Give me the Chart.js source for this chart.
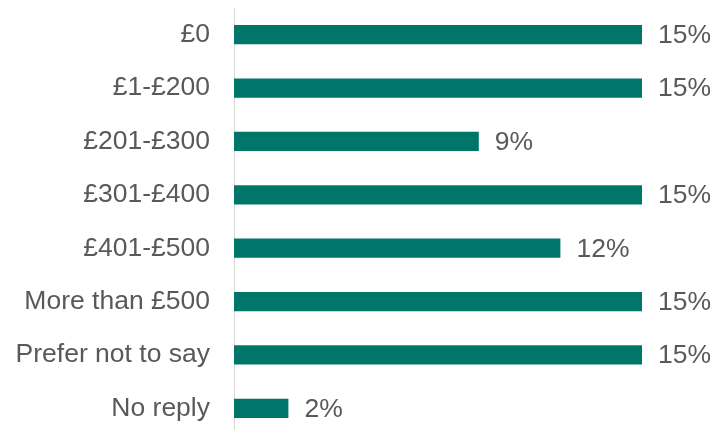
<!DOCTYPE html>
<html>
<head>
<meta charset="utf-8">
<script src="https://cdn.jsdelivr.net/npm/chart.js@4"></script>
<style>
  html, body { margin: 0; padding: 0; background: #fff; overflow: hidden; }
  #wrap { width: 713px; height: 435px; }
</style>
</head>
<body>
<div id="wrap"><canvas id="myChart"></canvas></div>
<script>
var categories = ['£0', '£1-£200', '£201-£300', '£301-£400', '£401-£500', 'More than £500', 'Prefer not to say', 'No reply'];
var shares = [15, 15, 9, 15, 12, 15, 15, 2];
var valueLabels = ['15%', '15%', '9%', '15%', '12%', '15%', '15%', '2%'];

var barColour = '#00766A';
var textColour = '#595959';
var fontFamily = '"Liberation Sans", Arial, sans-serif';

// writes the percentage just past the end of each bar
var valueLabelPlugin = {
    id: 'valueLabels',
    afterDatasetsDraw: function (chart) {
        var ctx = chart.ctx;
        var meta = chart.getDatasetMeta(0);
        ctx.save();
        ctx.font = '26.5px ' + fontFamily;
        ctx.fillStyle = textColour;
        ctx.textAlign = 'left';
        ctx.textBaseline = 'middle';
        meta.data.forEach(function (bar, i) {
            ctx.fillText(valueLabels[i], bar.x + 16, bar.y + 1);
        });
        ctx.restore();
    }
};

var ctx = document.getElementById('myChart').getContext('2d');
var myChart = new Chart(ctx, {
    type: 'bar',
    data: {
        labels: categories,
        datasets: [{
            data: shares,
            backgroundColor: barColour,
            borderWidth: 0,
            barPercentage: 0.36,
            categoryPercentage: 1
        }]
    },
    options: {
        indexAxis: 'y',
        responsive: true,
        maintainAspectRatio: false,
        animation: false,
        layout: {
            padding: { top: 8, right: 71, bottom: 0, left: 0 }
        },
        scales: {
            x: {
                display: false,
                min: 0,
                max: 15
            },
            y: {
                afterFit: function (scale) {
                    scale.width = 234;
                    // no extra room above/below for the first and last labels
                    scale.paddingTop = 0;
                    scale.paddingBottom = 0;
                },
                grid: { display: false, drawTicks: false },
                border: { display: true, color: '#D9D9D9', width: 1 },
                ticks: {
                    padding: 24,
                    color: textColour,
                    font: { family: fontFamily, size: 26.5 }
                }
            }
        },
        plugins: {
            legend: { display: false },
            tooltip: { enabled: false }
        }
    },
    plugins: [valueLabelPlugin]
});
</script>
</body>
</html>
